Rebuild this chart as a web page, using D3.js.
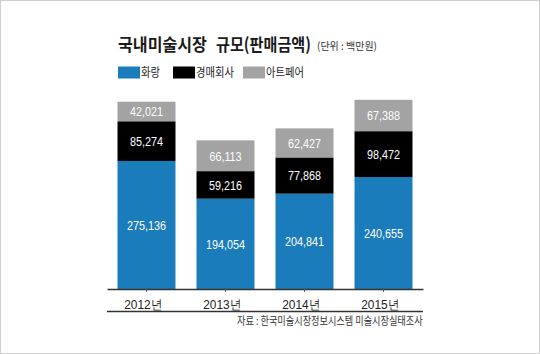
<!DOCTYPE html>
<html><head><meta charset="utf-8">
<script src="https://cdn.jsdelivr.net/npm/d3@7/dist/d3.min.js"></script>
<style>
html,body{margin:0;padding:0;background:#fff;}
svg{display:block;}
</style></head>
<body>
<svg id="chart" width="540" height="354"></svg>
<script>
const years = ['2012년','2013년','2014년','2015년'];
const gallery = [275136,194054,204841,240655];
const auction = [85274,59216,77868,98472];
const artfair = [42021,66113,62427,67388];
const seriesNames = ['화랑','경매회사','아트페어'];
const colors = ['#1a7cbb','#000000','#a3a3a3'];
const titleMain = '국내미술시장';
const titleSub = '규모(판매금액)';
const unitText = '(단위 : 백만원)';
const sourceText = '자료 : 한국미술시장정보시스템 미술시장실태조사';

const svg = d3.select('#chart');
const KR = "'Noto Sans CJK KR','Noto Sans',sans-serif";
const NUM = "'Liberation Sans','Arial',sans-serif";

svg.append('rect').attr('x',0.5).attr('y',0.5).attr('width',539).attr('height',353)
  .attr('fill','#fff').attr('stroke','#cfcfcf');

function fitText(str, x0, yb, w, size, weight, fill){
  const t = svg.append('text').attr('x',0).attr('y',0).attr('font-family',KR)
    .attr('font-size',size).attr('font-weight',weight).attr('fill',fill).text(str);
  const len = t.node().getComputedTextLength();
  t.attr('transform',`translate(${x0},${yb}) scale(${w/len},1)`);
  return t;
}

const table = years.map((y,i)=>({year:y, gallery:gallery[i], auction:auction[i], artfair:artfair[i]}));
const keys = ['gallery','auction','artfair'];
const stack = d3.stack().keys(keys)(table);

const x = d3.scaleBand().domain(years).range([107,423]).paddingInner(0.266).paddingOuter(0.133);
const y = d3.scaleLinear().domain([0,410000]).range([289, 98.2]);

const g = svg.append('g');
stack.forEach((s,si)=>{
  g.selectAll('rect.s'+si).data(s).join('rect')
    .attr('x',d=>x(d.data.year)).attr('width',x.bandwidth())
    .attr('y',d=>y(d[1])).attr('height',d=>y(d[0])-y(d[1]))
    .attr('fill',colors[si]);
  g.selectAll('text.l'+si).data(s).join('text')
    .attr('transform',d=>`translate(${x(d.data.year)+x.bandwidth()/2},${(y(d[0])+y(d[1]))/2}) scale(0.8,1)`)
    .attr('dy','0.36em')
    .attr('text-anchor','middle')
    .attr('fill','#fff')
    .attr('font-family',NUM).attr('font-size',13.5)
    .text(d=>d3.format(',')(d[1]-d[0]));
});

// axis
const axis = d3.axisBottom(x).tickSize(3).tickSizeOuter(0).tickPadding(5);
const ax = svg.append('g').attr('transform','translate(0,289)').call(axis);
ax.select('.domain').attr('stroke','#333').attr('stroke-width',1.5);
ax.selectAll('.tick line').attr('stroke','#555');
ax.selectAll('.tick text').attr('font-family',NUM).attr('font-size',13.5).attr('fill','#222')
  .attr('dy','0.9em').attr('transform','translate(-3,0) scale(0.88,1)');

svg.append('line').attr('x1',107).attr('x2',423).attr('y1',311.5).attr('y2',311.5)
  .attr('stroke','#333').attr('stroke-width',1.5);

// title
fitText(titleMain, 118, 51, 89, 17.5, 700, '#1a1a1a');
fitText(titleSub, 216, 51, 95, 17.5, 700, '#1a1a1a');
fitText(unitText, 317, 50, 60, 10.5, 400, '#333');

// legend
const legX = [118,173,243];
const legW = [19,38,38];
seriesNames.forEach((n,i)=>{
  svg.append('rect').attr('x',legX[i]).attr('y',66.5).attr('width',22).attr('height',12).attr('fill',colors[i]);
  fitText(n, legX[i]+23, 77, legW[i], 12, 400, '#222');
});

// source
fitText(sourceText, 237, 325, 186, 11, 400, '#333');
</script>
</body></html>
